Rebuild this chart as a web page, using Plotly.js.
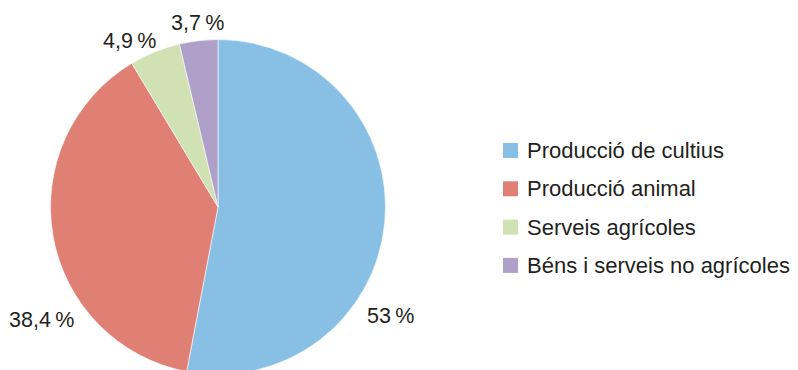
<!DOCTYPE html>
<html>
<head>
<meta charset="utf-8">
<script src="https://cdn.plot.ly/plotly-3.0.1.min.js"></script>
<style>
html, body { margin: 0; padding: 0; overflow: hidden; background: #fff; }
#chart { width: 798px; height: 380px; }
</style>
</head>
<body>
<div id="chart"></div>
<script>
const categories = ["Producció de cultius", "Producció animal", "Serveis agrícoles", "Béns i serveis no agrícoles"];
const values = [53, 38.4, 4.9, 3.7];
const colors = ["#88BFE4", "#E07F74", "#D0E1B3", "#AFA0CA"];

const W = 798, H = 380;
const fmt = v => String(v).replace('.', ',') + '\u2009%';

// label placement (pixel centres) for each slice
const labelPos = [[390, 316], [41, 320], [129, 41], [197, 23]];
const legendX = 503, legendY0 = 150.5, legendStep = 38.3, sw = 15;

const annotations = [];
const shapes = [];
values.forEach((v, i) => {
  annotations.push({
    text: fmt(v), xref: 'paper', yref: 'paper',
    x: labelPos[i][0] / W, y: 1 - labelPos[i][1] / H,
    xanchor: 'center', yanchor: 'middle', showarrow: false,
    font: { family: 'Liberation Sans, Arial, sans-serif', size: 21.5, color: '#231F20' }
  });
});
categories.forEach((c, i) => {
  const cy = legendY0 + i * legendStep;
  shapes.push({
    type: 'rect', xref: 'paper', yref: 'paper',
    x0: legendX / W, x1: (legendX + sw) / W,
    y0: 1 - (cy - sw / 2) / H, y1: 1 - (cy + sw / 2) / H,
    fillcolor: colors[i], line: { width: 0 }
  });
  annotations.push({
    text: c, xref: 'paper', yref: 'paper',
    x: (legendX + sw + 7) / W, y: 1 - cy / H,
    xanchor: 'left', yanchor: 'middle', showarrow: false,
    font: { family: 'Liberation Sans, Arial, sans-serif', size: 22, color: '#231F20' }
  });
});

const trace = {
  type: 'pie',
  labels: categories,
  values: values,
  sort: false,
  direction: 'clockwise',
  rotation: 0,
  marker: { colors: colors, line: { color: '#ffffff', width: 0.6 } },
  textinfo: 'none',
  hoverinfo: 'none',
  showlegend: false,
  domain: { x: [50.5 / W, 385.5 / W], y: [1 - 374.5 / H, 1 - 39.5 / H] }
};

Plotly.newPlot('chart', [trace], {
  width: W, height: H,
  margin: { l: 0, r: 0, t: 0, b: 0 },
  paper_bgcolor: '#ffffff',
  showlegend: false,
  annotations: annotations,
  shapes: shapes,
  font: { family: 'Liberation Sans, Arial, sans-serif' }
}, { staticPlot: true });
</script>
</body>
</html>
